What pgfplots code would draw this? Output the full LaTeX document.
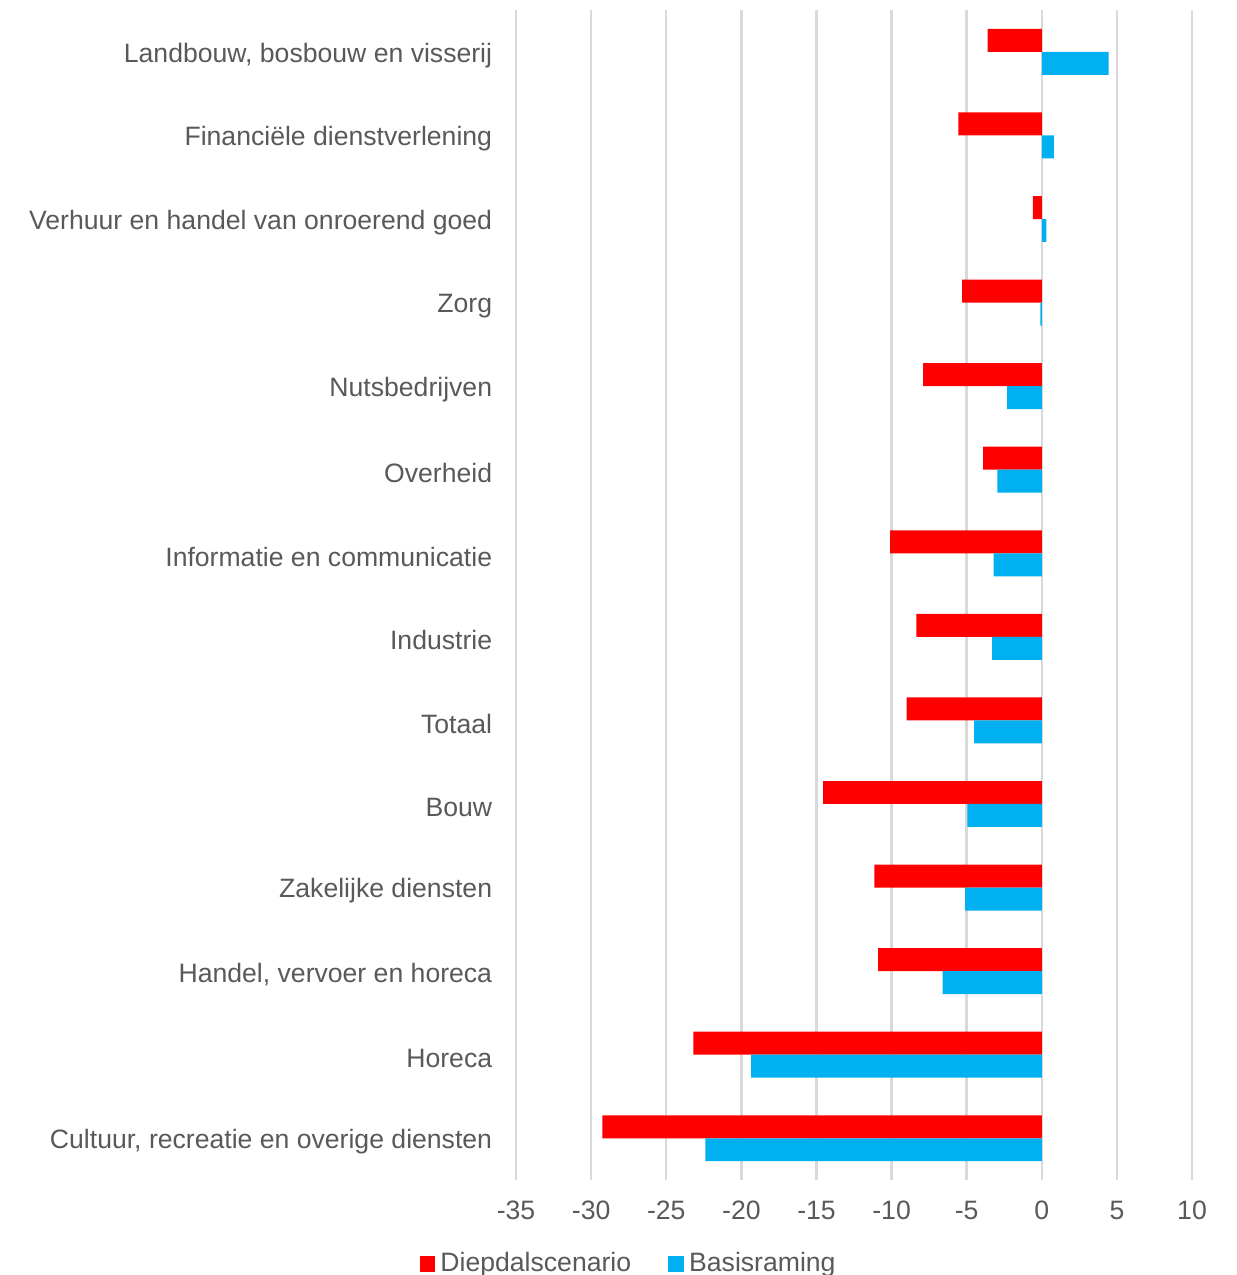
\documentclass[border=0pt]{standalone}
\usepackage{fontspec}
\setmainfont{Liberation Sans}
\usepackage{pgfplots}
\pgfplotsset{compat=1.18}
\definecolor{diepred}{HTML}{FF0000}
\definecolor{basisblue}{HTML}{00B0F0}
\definecolor{txtgray}{HTML}{595959}
\definecolor{gridgray}{HTML}{D9D9D9}
\begin{document}
\begin{tikzpicture}
\begin{axis}[
    xbar,
    width=254.1pt, height=439.8pt,
    scale only axis,
    xmin=-35, xmax=10,
    ymin=-0.5, ymax=13.5,
    xtick={-35,-30,...,10},
    ytick={0,...,13},
    yticklabels={{Cultuur, recreatie en overige diensten}, Horeca,
        {Handel, vervoer en horeca},
        Zakelijke diensten, Bouw, Totaal, Industrie,
        Informatie en communicatie, Overheid, Nutsbedrijven, Zorg,
        Verhuur en handel van onroerend goed,
        Financiële dienstverlening, {Landbouw, bosbouw en visserij}},
    /pgf/number format/assume math mode=true,
    tick label style={font=\normalsize, text=txtgray},
    xticklabel style={yshift=-4.5pt},
    yticklabel style={xshift=-1.2pt, yshift=-1.3pt},
    axis line style={draw=none},
    major tick style={draw=none},
    xmajorgrids,
    grid style={line width=0.9pt, draw=gridgray},
    bar width=0.275,
    legend style={at={(0.169,-0.072)}, anchor=center, legend columns=2,
        draw=none, font=\normalsize, text=txtgray,
        /tikz/every even column/.append style={column sep=12pt}},
    legend image code/.code={\fill[#1] (0pt,-3pt) rectangle (5.8pt,3pt);},
]
% Diepdalscenario (upper bar of each pair)
\addplot[fill=diepred, draw=none, bar shift=0.1375] coordinates {
    (-29.25,0) (-23.2,1) (-10.9,2) (-11.15,3) (-14.55,4) (-9.0,5) (-8.35,6)
    (-10.1,7) (-3.9,8) (-7.9,9) (-5.3,10) (-0.6,11) (-5.55,12) (-3.6,13)};
% Basisraming
\addplot[fill=basisblue, draw=none, bar shift=-0.1375] coordinates {
    (-22.4,0) (-19.35,1) (-6.6,2) (-5.1,3) (-4.95,4) (-4.5,5) (-3.3,6)
    (-3.2,7) (-2.95,8) (-2.3,9) (-0.1,10) (0.3,11) (0.8,12) (4.45,13)};
\legend{Diepdalscenario, Basisraming}
\end{axis}
\pgfresetboundingbox
\path[use as bounding box] (-194pt,-35.7pt) rectangle (271pt,443.6pt);
\end{tikzpicture}
\end{document}
